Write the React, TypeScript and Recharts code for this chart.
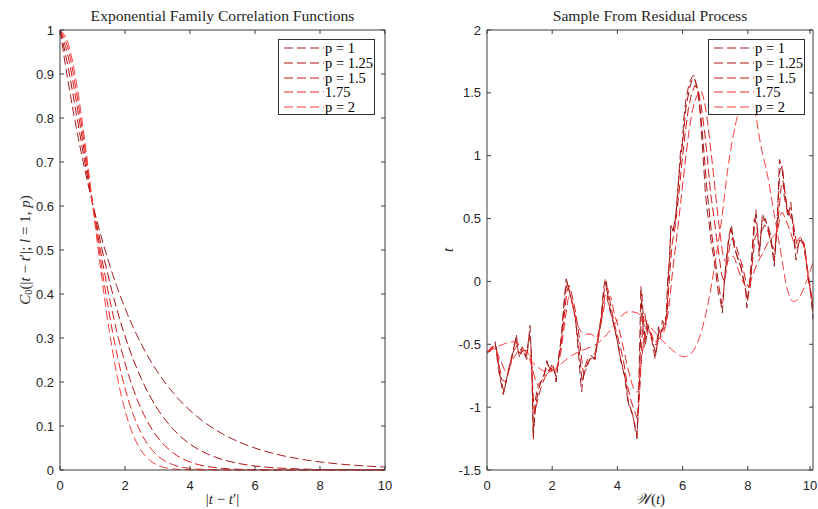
import React from 'react';
import { LineChart, Line, XAxis, YAxis, Legend } from 'recharts';

// legend labels / colours (same for both panels)
const pLabels = ['p = 1', 'p = 1.25', 'p = 1.5', '1.75', 'p = 2'];
const seriesColors = ['#a51d1d', '#b01111', '#d21818', '#ee2a2a', '#ff3d3d'];
const seriesKeys = ['p1', 'p125', 'p15', 'p175', 'p2'];

// ---- left panel: correlation vs lag ----
const lagValues = [0, 0.25, 0.5, 0.75, 1, 1.25, 1.5, 1.75, 2, 2.25, 2.5, 2.75, 3, 3.5, 4, 4.5, 5, 5.5, 6, 6.5, 7, 7.5, 8, 8.5, 9, 9.5, 10];
const corrP1 = [1, 0.8825, 0.7788, 0.6873, 0.6065, 0.5353, 0.4724, 0.4169, 0.3679, 0.3247, 0.2865, 0.2528, 0.2231, 0.1738, 0.1353, 0.1054, 0.0821, 0.0639, 0.0498, 0.0388, 0.0302, 0.0235, 0.0183, 0.0143, 0.0111, 0.0087, 0.0067];
const corrP125 = [1, 0.9154, 0.8104, 0.7054, 0.6065, 0.5164, 0.436, 0.3655, 0.3045, 0.2521, 0.2077, 0.1702, 0.1389, 0.0913, 0.0591, 0.0377, 0.0238, 0.0148, 0.0091, 0.0056, 0.0034, 0.002, 0.0012, 0.0007, 0.0004, 0.0002, 0.0001];
const corrP15 = [1, 0.9394, 0.838, 0.7227, 0.6065, 0.4972, 0.3991, 0.3143, 0.2431, 0.185, 0.1386, 0.1023, 0.0744, 0.0379, 0.0183, 0.0085, 0.0037, 0.0016, 0.0006, 0.0002, 0.0001, 0, 0, 0, 0, 0, 0];
const corrP175 = [1, 0.9568, 0.8619, 0.7392, 0.6065, 0.4777, 0.3618, 0.2641, 0.186, 0.1266, 0.0833, 0.0531, 0.0327, 0.0114, 0.0035, 0.001, 0.0002, 0, 0, 0, 0, 0, 0, 0, 0, 0, 0];
const corrP2 = [1, 0.9692, 0.8825, 0.7548, 0.6065, 0.4578, 0.3247, 0.2163, 0.1353, 0.0796, 0.0439, 0.0228, 0.0111, 0.0022, 0.0003, 0, 0, 0, 0, 0, 0, 0, 0, 0, 0, 0, 0];

const corrTicksX = [0, 2, 4, 6, 8, 10];
const corrTicksY = [0, 0.1, 0.2, 0.3, 0.4, 0.5, 0.6, 0.7, 0.8, 0.9, 1];

// ---- right panel: one sample path per p, [t, value] ----
const sampleP1 = [[0, -0.56], [0.12, -0.55], [0.2, -0.5], [0.25, -0.48], [0.35, -0.7], [0.5, -0.9], [0.62, -0.75], [0.75, -0.6], [0.82, -0.55], [0.9, -0.42], [0.95, -0.55], [1.0, -0.6], [1.08, -0.52], [1.15, -0.58], [1.22, -0.62], [1.32, -0.35], [1.38, -0.72], [1.42, -1.26], [1.48, -0.95], [1.55, -0.84], [1.65, -0.8], [1.75, -0.75], [1.84, -0.63], [1.92, -0.72], [2.0, -0.65], [2.06, -0.7], [2.12, -0.8], [2.2, -0.6], [2.28, -0.45], [2.35, -0.2], [2.43, 0.02], [2.5, -0.05], [2.56, -0.12], [2.64, -0.2], [2.72, -0.31], [2.8, -0.55], [2.9, -0.88], [2.98, -0.7], [3.08, -0.62], [3.18, -0.59], [3.25, -0.6], [3.32, -0.62], [3.42, -0.42], [3.5, -0.28], [3.58, -0.05], [3.63, 0.02], [3.7, -0.15], [3.76, -0.22], [3.88, -0.33], [3.98, -0.45], [4.08, -0.6], [4.18, -0.7], [4.26, -0.8], [4.36, -1.0], [4.46, -1.05], [4.55, -1.18], [4.6, -1.25], [4.65, -0.9], [4.7, -0.3], [4.72, -0.04], [4.76, -0.25], [4.82, -0.52], [4.9, -0.31], [4.98, -0.4], [5.06, -0.47], [5.16, -0.62], [5.26, -0.36], [5.32, -0.44], [5.38, -0.31], [5.48, -0.36], [5.55, 0.05], [5.6, 0.17], [5.64, 0.46], [5.7, 0.4], [5.75, 0.43], [5.84, 0.65], [5.9, 0.9], [5.94, 1.05], [5.99, 1.1], [6.04, 1.3], [6.1, 1.44], [6.18, 1.55], [6.24, 1.6], [6.3, 1.63], [6.36, 1.64], [6.42, 1.56], [6.48, 1.5], [6.55, 1.3], [6.6, 1.1], [6.64, 0.95], [6.7, 0.7], [6.76, 0.55], [6.82, 0.45], [6.88, 0.3], [6.95, 0.2], [7.02, 0.07], [7.1, -0.1], [7.16, -0.15], [7.22, -0.25], [7.28, 0.0], [7.34, 0.17], [7.42, 0.36], [7.5, 0.45], [7.56, 0.3], [7.63, 0.23], [7.7, 0.18], [7.78, 0.14], [7.86, 0.02], [7.94, -0.07], [7.97, -0.21], [8.02, -0.1], [8.08, -0.04], [8.17, 0.33], [8.25, 0.57], [8.3, 0.38], [8.35, 0.2], [8.45, 0.54], [8.52, 0.48], [8.6, 0.46], [8.7, 0.37], [8.81, 0.12], [8.86, 0.3], [8.92, 0.6], [8.97, 0.97], [9.05, 0.91], [9.12, 0.67], [9.18, 0.6], [9.23, 0.51], [9.32, 0.63], [9.38, 0.45], [9.43, 0.3], [9.48, 0.17], [9.58, 0.33], [9.66, 0.32], [9.74, 0.3], [9.8, 0.15], [9.84, 0.04], [9.9, -0.05], [9.95, -0.12], [10, -0.3]];
const sampleP125 = [[0, -0.57], [0.12, -0.55], [0.22, -0.5], [0.28, -0.52], [0.4, -0.75], [0.52, -0.88], [0.65, -0.72], [0.78, -0.58], [0.88, -0.45], [0.96, -0.55], [1.04, -0.58], [1.12, -0.54], [1.2, -0.6], [1.3, -0.42], [1.36, -0.55], [1.42, -1.2], [1.5, -0.98], [1.58, -0.86], [1.68, -0.78], [1.78, -0.72], [1.86, -0.66], [1.95, -0.7], [2.04, -0.68], [2.12, -0.76], [2.22, -0.58], [2.3, -0.4], [2.38, -0.15], [2.45, 0.0], [2.52, -0.08], [2.6, -0.15], [2.7, -0.28], [2.8, -0.48], [2.92, -0.8], [3.0, -0.72], [3.1, -0.64], [3.2, -0.6], [3.3, -0.62], [3.4, -0.45], [3.5, -0.3], [3.6, -0.06], [3.66, 0.0], [3.74, -0.18], [3.82, -0.26], [3.92, -0.38], [4.02, -0.5], [4.12, -0.65], [4.22, -0.75], [4.32, -0.95], [4.42, -1.02], [4.52, -1.12], [4.6, -1.22], [4.66, -0.95], [4.72, -0.35], [4.75, -0.1], [4.8, -0.3], [4.86, -0.5], [4.94, -0.35], [5.02, -0.42], [5.1, -0.5], [5.18, -0.58], [5.28, -0.38], [5.36, -0.4], [5.44, -0.33], [5.52, -0.25], [5.58, 0.1], [5.64, 0.4], [5.72, 0.42], [5.8, 0.55], [5.88, 0.82], [5.96, 1.02], [6.02, 1.15], [6.1, 1.38], [6.2, 1.52], [6.28, 1.6], [6.36, 1.62], [6.44, 1.55], [6.52, 1.42], [6.6, 1.2], [6.68, 0.95], [6.74, 0.75], [6.8, 0.6], [6.88, 0.4], [6.96, 0.25], [7.04, 0.1], [7.12, -0.05], [7.2, -0.18], [7.26, -0.08], [7.32, 0.1], [7.4, 0.3], [7.48, 0.42], [7.54, 0.35], [7.62, 0.25], [7.72, 0.16], [7.8, 0.1], [7.9, -0.02], [7.98, -0.15], [8.04, -0.05], [8.12, 0.2], [8.2, 0.5], [8.28, 0.45], [8.36, 0.25], [8.44, 0.48], [8.54, 0.5], [8.62, 0.42], [8.72, 0.3], [8.82, 0.18], [8.9, 0.45], [8.98, 0.88], [9.06, 0.92], [9.14, 0.7], [9.22, 0.55], [9.3, 0.58], [9.38, 0.48], [9.46, 0.25], [9.54, 0.28], [9.62, 0.35], [9.72, 0.28], [9.82, 0.1], [9.92, -0.08], [10, -0.26]];
const sampleP15 = [[0, -0.56], [0.15, -0.53], [0.3, -0.55], [0.45, -0.78], [0.58, -0.8], [0.7, -0.68], [0.82, -0.55], [0.95, -0.5], [1.05, -0.55], [1.15, -0.55], [1.25, -0.55], [1.35, -0.6], [1.45, -1.05], [1.55, -0.95], [1.65, -0.85], [1.78, -0.76], [1.9, -0.7], [2.02, -0.7], [2.14, -0.72], [2.25, -0.55], [2.35, -0.32], [2.45, -0.08], [2.52, -0.03], [2.6, -0.1], [2.7, -0.22], [2.82, -0.42], [2.95, -0.72], [3.05, -0.7], [3.15, -0.62], [3.28, -0.6], [3.4, -0.48], [3.52, -0.3], [3.62, -0.1], [3.7, -0.05], [3.8, -0.2], [3.92, -0.35], [4.05, -0.48], [4.18, -0.62], [4.3, -0.82], [4.42, -0.95], [4.55, -1.05], [4.62, -1.1], [4.7, -0.8], [4.78, -0.3], [4.84, -0.25], [4.92, -0.42], [5.02, -0.4], [5.12, -0.5], [5.22, -0.5], [5.32, -0.4], [5.42, -0.38], [5.52, -0.28], [5.6, 0.05], [5.68, 0.3], [5.78, 0.45], [5.88, 0.68], [5.98, 0.95], [6.08, 1.18], [6.18, 1.38], [6.28, 1.5], [6.38, 1.56], [6.48, 1.52], [6.58, 1.38], [6.68, 1.18], [6.78, 0.92], [6.86, 0.7], [6.94, 0.55], [7.04, 0.35], [7.12, 0.2], [7.2, 0.05], [7.28, 0.0], [7.36, 0.12], [7.44, 0.28], [7.54, 0.35], [7.64, 0.28], [7.74, 0.2], [7.84, 0.12], [7.94, 0.0], [8.04, -0.05], [8.12, 0.1], [8.22, 0.35], [8.32, 0.4], [8.42, 0.4], [8.52, 0.45], [8.62, 0.4], [8.72, 0.3], [8.82, 0.25], [8.92, 0.45], [9.02, 0.75], [9.1, 0.78], [9.2, 0.6], [9.3, 0.52], [9.4, 0.45], [9.5, 0.3], [9.6, 0.3], [9.7, 0.32], [9.8, 0.15], [9.9, -0.02], [10, -0.2]];
const sampleP175 = [[0, -0.56], [0.2, -0.52], [0.4, -0.62], [0.6, -0.72], [0.8, -0.62], [1.0, -0.55], [1.2, -0.55], [1.4, -0.7], [1.55, -0.82], [1.7, -0.78], [1.9, -0.72], [2.1, -0.7], [2.25, -0.58], [2.4, -0.3], [2.52, -0.12], [2.62, -0.18], [2.75, -0.32], [2.9, -0.4], [3.05, -0.42], [3.2, -0.42], [3.35, -0.45], [3.5, -0.32], [3.65, -0.15], [3.78, -0.12], [3.9, -0.25], [4.05, -0.38], [4.2, -0.55], [4.35, -0.72], [4.5, -0.85], [4.62, -0.88], [4.75, -0.6], [4.88, -0.4], [5.0, -0.4], [5.15, -0.48], [5.3, -0.45], [5.45, -0.38], [5.58, -0.2], [5.7, 0.1], [5.82, 0.35], [5.95, 0.65], [6.08, 0.95], [6.2, 1.2], [6.32, 1.38], [6.45, 1.48], [6.55, 1.52], [6.65, 1.45], [6.75, 1.3], [6.85, 1.08], [6.95, 0.85], [7.05, 0.6], [7.15, 0.38], [7.25, 0.2], [7.35, 0.15], [7.45, 0.18], [7.55, 0.2], [7.7, 0.1], [7.85, 0.0], [8.0, -0.05], [8.15, 0.05], [8.3, 0.15], [8.45, 0.22], [8.6, 0.3], [8.75, 0.35], [8.9, 0.4], [9.05, 0.55], [9.15, 0.5], [9.3, 0.4], [9.45, 0.3], [9.6, 0.35], [9.72, 0.3], [9.85, 0.05], [10, -0.18]];
const sampleP2 = [[0, -0.56], [0.4, -0.51], [0.8, -0.48], [1.1, -0.53], [1.35, -0.63], [1.6, -0.69], [1.85, -0.72], [2.1, -0.7], [2.3, -0.65], [2.6, -0.59], [2.9, -0.55], [3.2, -0.52], [3.5, -0.47], [3.8, -0.38], [4.1, -0.28], [4.35, -0.24], [4.6, -0.25], [4.9, -0.33], [5.2, -0.42], [5.5, -0.5], [5.8, -0.57], [6.05, -0.6], [6.3, -0.56], [6.55, -0.42], [6.8, -0.15], [7.0, 0.15], [7.2, 0.5], [7.4, 0.92], [7.6, 1.22], [7.8, 1.42], [8.0, 1.5], [8.2, 1.38], [8.4, 1.08], [8.6, 0.85], [8.8, 0.55], [9.0, 0.25], [9.2, -0.05], [9.4, -0.16], [9.6, -0.12], [9.8, 0.0], [10, 0.15]];

const sampleTicksX = [0, 2, 4, 6, 8, 10];
const sampleTicksY = [-1.5, -1, -0.5, 0, 0.5, 1, 1.5, 2];

const corrData = lagValues.map((lag, i) => ({
  lag,
  p1: corrP1[i],
  p125: corrP125[i],
  p15: corrP15[i],
  p175: corrP175[i],
  p2: corrP2[i],
}));

const samples = [sampleP1, sampleP125, sampleP15, sampleP175, sampleP2].map(s =>
  s.map(([t, v]) => ({ t, v }))
);

const axisColor = '#3c3c3c';
const textColor = '#262626';
const tickFont = '"Liberation Sans", Arial, Helvetica, sans-serif';
const serifFont = '"Liberation Serif", "Times New Roman", serif';
const dash = '9 4';

// inward ticks (MATLAB style box)
const BottomTick = ({ x, y, payload }: any) => (
  <g>
    <line x1={x} y1={y} x2={x} y2={y - 4} stroke={axisColor} />
    <text x={x} y={y + 20} textAnchor="middle" fill={textColor} fontSize={13} fontFamily={tickFont}>
      {String(payload.value)}
    </text>
  </g>
);
const TopTick = ({ x, y }: any) => <line x1={x} y1={y} x2={x} y2={y + 4} stroke={axisColor} />;
const LeftTick = ({ x, y, payload }: any) => (
  <g>
    <line x1={x} y1={y} x2={x + 4} y2={y} stroke={axisColor} />
    <text x={x - 6} y={y + 4.5} textAnchor="end" fill={textColor} fontSize={13} fontFamily={tickFont}>
      {String(payload.value)}
    </text>
  </g>
);
const RightTick = ({ x, y }: any) => <line x1={x} y1={y} x2={x - 4} y2={y} stroke={axisColor} />;

const titleLabel = (title: string) => ({ viewBox }: any) => (
  <text x={viewBox.x + viewBox.width / 2} y={viewBox.y - 8} textAnchor="middle" fill={textColor} fontSize={15.6} fontFamily={serifFont}>
    {title}
  </text>
);

const LegendBox = () => (
  <div style={{ width: 97, height: 76, boxSizing: 'border-box', border: '1px solid #333', background: '#fff', padding: '1px 0 0 3px', fontFamily: serifFont, fontSize: 14.5, color: '#000' }}>
    {pLabels.map((label, i) => (
      <div key={label} style={{ height: 14.7, display: 'flex', alignItems: 'center' }}>
        <svg width={43} height={8} style={{ flex: 'none' }}>
          <line x1={2} y1={4} x2={42} y2={4} stroke={seriesColors[i]} strokeWidth={1} strokeDasharray={dash} />
        </svg>
        <span style={{ lineHeight: '14px', whiteSpace: 'nowrap' }}>{label}</span>
      </div>
    ))}
  </div>
);

const CorrelationPanel = () => (
  <LineChart width={400} height={509} data={corrData} margin={{ top: 29, right: 14, bottom: 9, left: 20 }}>
    <XAxis
      dataKey="lag"
      type="number"
      domain={[0, 10]}
      ticks={corrTicksX}
      height={30}
      tickSize={0}
      tickMargin={0}
      tickLine={false}
      tick={BottomTick}
      stroke={axisColor}
      label={({ viewBox }: any) => (
        <text x={viewBox.x + viewBox.width / 2} y={viewBox.y + 34} textAnchor="middle" fill={textColor} fontSize={15} fontFamily={serifFont}>
          |<tspan fontStyle="italic">t</tspan> − <tspan fontStyle="italic">t</tspan>′|
        </text>
      )}
    />
    <XAxis
      xAxisId="top"
      dataKey="lag"
      orientation="top"
      type="number"
      domain={[0, 10]}
      ticks={corrTicksX}
      height={1}
      tickSize={0}
      tickMargin={0}
      tickLine={false}
      tick={TopTick}
      stroke={axisColor}
      label={titleLabel('Exponential Family Correlation Functions')}
    />
    <YAxis
      type="number"
      domain={[0, 1]}
      ticks={corrTicksY}
      width={40}
      tickSize={0}
      tickMargin={0}
      tickLine={false}
      tick={LeftTick}
      stroke={axisColor}
      label={({ viewBox }: any) => {
        const cx = viewBox.x + 5;
        const cy = viewBox.y + viewBox.height / 2;
        return (
          <text x={cx} y={cy} transform={`rotate(-90, ${cx}, ${cy})`} textAnchor="middle" dominantBaseline="central" fill={textColor} fontSize={15} fontFamily={serifFont}>
            <tspan fontStyle="italic">C</tspan>
            <tspan fontSize={10.5} dy={3}>0</tspan>
            <tspan dy={-3}>(|</tspan>
            <tspan fontStyle="italic">t</tspan> − <tspan fontStyle="italic">t</tspan>′|; <tspan fontStyle="italic">l</tspan> = 1, <tspan fontStyle="italic">p</tspan>)
          </text>
        );
      }}
    />
    <YAxis yAxisId="right" orientation="right" type="number" domain={[0, 1]} ticks={corrTicksY} width={1} tickSize={0} tickMargin={0} tickLine={false} tick={RightTick} stroke={axisColor} />
    {seriesKeys.map((key, i) => (
      <Line key={key} type="monotone" dataKey={key} name={pLabels[i]} stroke={seriesColors[i]} strokeWidth={1} strokeDasharray={dash} dot={false} isAnimationActive={false} />
    ))}
    {/* invisible carrier so the top / right box axes get drawn */}
    <Line xAxisId="top" yAxisId="right" dataKey="p1" stroke="none" dot={false} legendType="none" isAnimationActive={false} />
    <Legend layout="horizontal" verticalAlign="middle" align="center" content={() => <LegendBox />} wrapperStyle={{ left: 278, top: 39, width: 97, height: 76 }} />
  </LineChart>
);

const SamplePanel = () => (
  <LineChart width={408} height={509} margin={{ top: 29, right: 4, bottom: 9, left: 37 }}>
    <XAxis
      dataKey="t"
      type="number"
      domain={[0, 10]}
      ticks={sampleTicksX}
      height={30}
      tickSize={0}
      tickMargin={0}
      tickLine={false}
      tick={BottomTick}
      stroke={axisColor}
      allowDuplicatedCategory={false}
      label={({ viewBox }: any) => (
        <text x={viewBox.x + viewBox.width / 2} y={viewBox.y + 34} textAnchor="middle" fill={textColor} fontSize={15} fontFamily={serifFont}>
          <tspan fontStyle="italic">𝒲</tspan>(<tspan fontStyle="italic">t</tspan>)
        </text>
      )}
    />
    <XAxis xAxisId="top" dataKey="t" orientation="top" type="number" domain={[0, 10]} ticks={sampleTicksX} height={1} tickSize={0} tickMargin={0} tickLine={false} tick={TopTick} stroke={axisColor} allowDuplicatedCategory={false} label={titleLabel('Sample From Residual Process')} />
    <YAxis
      type="number"
      domain={[-1.5, 2]}
      ticks={sampleTicksY}
      width={40}
      tickSize={0}
      tickMargin={0}
      tickLine={false}
      tick={LeftTick}
      stroke={axisColor}
      allowDataOverflow
      label={({ viewBox }: any) => {
        const cx = viewBox.x + 1;
        const cy = viewBox.y + viewBox.height / 2;
        return (
          <text x={cx} y={cy} transform={`rotate(-90, ${cx}, ${cy})`} textAnchor="middle" dominantBaseline="central" fill={textColor} fontSize={15} fontStyle="italic" fontFamily={serifFont}>
            t
          </text>
        );
      }}
    />
    <YAxis yAxisId="right" orientation="right" type="number" domain={[-1.5, 2]} ticks={sampleTicksY} width={1} tickSize={0} tickMargin={0} tickLine={false} tick={RightTick} stroke={axisColor} allowDataOverflow />
    {samples.map((data, i) => (
      <Line key={seriesKeys[i]} data={data} type={i >= 3 ? 'monotone' : 'linear'} dataKey="v" name={pLabels[i]} stroke={seriesColors[i]} strokeWidth={1} strokeDasharray={dash} dot={false} isAnimationActive={false} />
    ))}
    {/* invisible carrier so the top / right box axes get drawn */}
    <Line data={samples[4]} xAxisId="top" yAxisId="right" dataKey="v" stroke="none" dot={false} legendType="none" isAnimationActive={false} />
    <Legend layout="horizontal" verticalAlign="middle" align="center" content={() => <LegendBox />} wrapperStyle={{ left: 298, top: 39, width: 97, height: 76 }} />
  </LineChart>
);

export default function App() {
  return (
    <div style={{ position: 'absolute', left: 0, top: 0, width: 818, height: 509, background: '#fff', overflow: 'hidden' }}>
      <div style={{ position: 'absolute', left: 0, top: 0 }}>
        <CorrelationPanel />
      </div>
      <div style={{ position: 'absolute', left: 410, top: 0 }}>
        <SamplePanel />
      </div>
    </div>
  );
}
